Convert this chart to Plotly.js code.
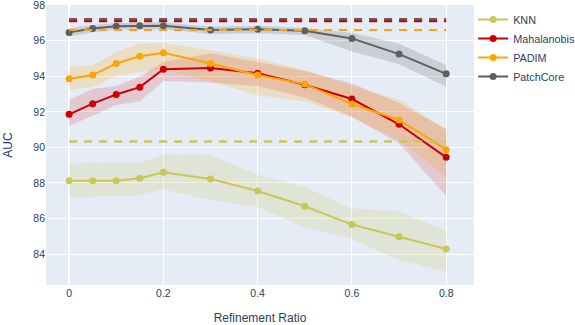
<!DOCTYPE html>
<html>
<head>
<meta charset="utf-8">
<script src="https://cdn.plot.ly/plotly-3.0.1.min.js"></script>
<style>
  html, body { margin: 0; padding: 0; background: #fff; }
  #plot { width: 575px; height: 325px; }
</style>
</head>
<body>
<div id="plot"></div>
<script>
// refinement ratios on the x axis
const ratios = [0, 0.05, 0.1, 0.15, 0.2, 0.3, 0.4, 0.5, 0.6, 0.7, 0.8];

const methods = ['KNN', 'Mahalanobis', 'PADIM', 'PatchCore'];

// mean AUC per method
const knnMean = [88.13, 88.13, 88.13, 88.26, 88.6, 88.22, 87.55, 86.69, 85.66, 84.97, 84.28];
const mahalMean = [91.86, 92.46, 92.98, 93.39, 94.4, 94.46, 94.17, 93.52, 92.72, 91.3, 89.44];
const padimMean = [93.86, 94.07, 94.72, 95.13, 95.32, 94.72, 94.07, 93.56, 92.44, 91.54, 89.87];
const patchMean = [96.47, 96.69, 96.82, 96.84, 96.84, 96.6, 96.65, 96.56, 96.13, 95.25, 94.14];

// band upper / lower edges
const knnHi = [89.1, 89.14, 89.15, 89.14, 89.6, 89.56, 88.45, 87.77, 86.56, 86.41, 85.31];
const knnLo = [87.17, 87.23, 87.28, 87.29, 87.64, 87.03, 86.65, 85.5, 84.84, 83.67, 83.0];
const mahalHi = [92.66, 93.28, 93.45, 93.97, 94.8, 95.3, 94.8, 94.3, 93.6, 92.5, 91.0];
const mahalLo = [91.2, 91.78, 92.38, 92.6, 93.73, 93.65, 93.45, 92.8, 91.72, 90.24, 87.27];
const padimHi = [94.53, 94.6, 95.38, 95.85, 95.88, 95.47, 95.0, 94.35, 93.46, 92.7, 91.04];
const padimLo = [93.26, 93.4, 94.0, 94.25, 94.35, 93.7, 92.94, 92.6, 91.7, 90.4, 88.35];
const patchHi = [96.7, 96.88, 97.0, 97.02, 97.02, 96.8, 96.85, 96.72, 96.45, 95.83, 94.64];
const patchLo = [96.22, 96.48, 96.62, 96.65, 96.65, 96.38, 96.42, 96.32, 95.4, 94.68, 93.41];

// dashed reference levels (KNN, Mahalanobis, PADIM, PatchCore)
const baselines = [90.33, 97.1, 96.6, 97.16];

const colors = ['#c9c65a', '#cc0000', '#ffa500', '#5f5f5f'];
const fills = ['rgba(201,198,90,0.2)', 'rgba(204,0,0,0.15)', 'rgba(255,165,0,0.2)', 'rgba(95,95,95,0.2)'];

const means = [knnMean, mahalMean, padimMean, patchMean];
const his = [knnHi, mahalHi, padimHi, patchHi];
const los = [knnLo, mahalLo, padimLo, patchLo];

const traces = [];
methods.forEach((name, i) => {
    traces.push({
        x: ratios.concat(ratios.slice().reverse()),
        y: his[i].concat(los[i].slice().reverse()),
        type: 'scatter', mode: 'lines', fill: 'toself',
        fillcolor: fills[i], line: { width: 0, color: 'rgba(0,0,0,0)' },
        hoverinfo: 'skip', showlegend: false
    });
});
methods.forEach((name, i) => {
    traces.push({
        x: ratios, y: means[i], name: name,
        type: 'scatter', mode: 'lines+markers',
        line: { color: colors[i], width: 2 },
        marker: { color: colors[i], size: 7 }
    });
});
// dashed levels: PatchCore drawn first so the red one sits on top
const dashOrder = [0, 2, 3, 1];
const dashWidth = [2.5, 2, 2, 4];
dashOrder.forEach(i => {
    traces.push({
        x: [ratios[0], ratios[ratios.length - 1]],
        y: [baselines[i], baselines[i]],
        type: 'scatter', mode: 'lines', showlegend: false, hoverinfo: 'skip',
        line: { color: colors[i], width: dashWidth[i], dash: '8px,7px' }
    });
});

const layout = {
    width: 575, height: 325,
    font: { family: 'Liberation Sans, Arial, sans-serif', size: 10.5, color: '#2a3f5f' },
    paper_bgcolor: '#fff', plot_bgcolor: '#e5ecf6',
    margin: { l: 46, r: 101, t: 5, b: 40, autoexpand: false },
    xaxis: {
        title: { text: 'Refinement Ratio', font: { size: 12 } },
        range: [-0.049, 0.859], tickvals: [0, 0.2, 0.4, 0.6, 0.8], ticktext: ['0', '0.2', '0.4', '0.6', '0.8'],
        gridcolor: '#fff', zeroline: true, zerolinecolor: '#fff', zerolinewidth: 2
    },
    yaxis: {
        title: { text: 'AUC', font: { size: 12 } },
        range: [82.26, 98.01], dtick: 2, ticklabeloverflow: 'allow',
        gridcolor: '#fff', zeroline: false
    },
    legend: { x: 0.998, xanchor: 'left', y: 1, bgcolor: 'rgba(0,0,0,0)', font: { size: 10.8 } },
    showlegend: true
};

Plotly.newPlot('plot', traces, layout, { displayModeBar: false, staticPlot: true });
</script>
</body>
</html>
